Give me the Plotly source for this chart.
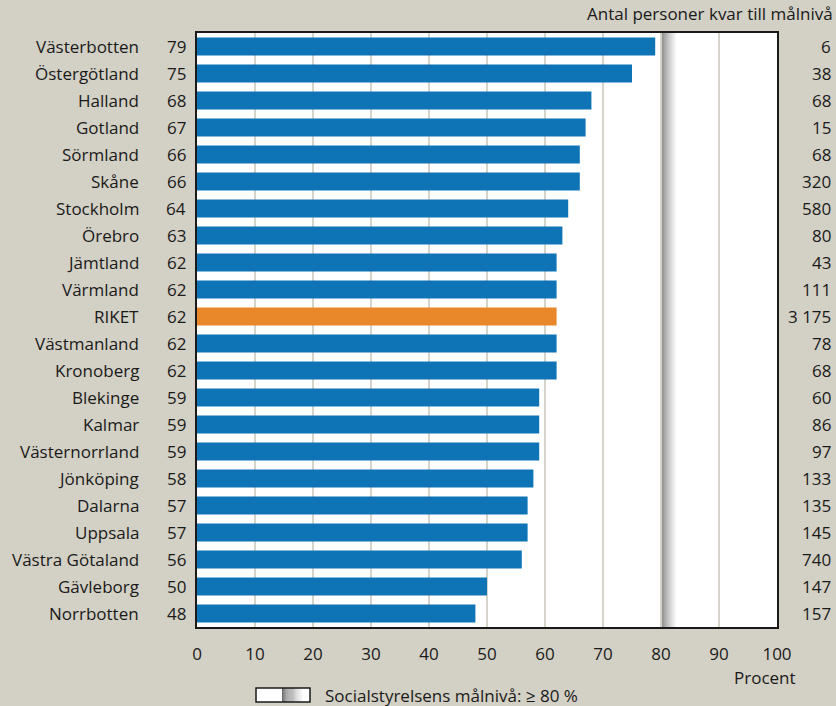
import plotly.graph_objects as go

# Andel (%) per län, sorted high to low, with RIKET highlighted
regions = ["Västerbotten", "Östergötland", "Halland", "Gotland", "Sörmland", "Skåne",
           "Stockholm", "Örebro", "Jämtland", "Värmland", "RIKET", "Västmanland",
           "Kronoberg", "Blekinge", "Kalmar", "Västernorrland", "Jönköping", "Dalarna",
           "Uppsala", "Västra Götaland", "Gävleborg", "Norrbotten"]
percent = [79, 75, 68, 67, 66, 66, 64, 63, 62, 62, 62, 62, 62, 59, 59, 59, 58, 57, 57, 56, 50, 48]
remaining = ["6", "38", "68", "15", "68", "320", "580", "80", "43", "111", "3 175", "78",
             "68", "60", "86", "97", "133", "135", "145", "740", "147", "157"]
x_ticks = [0, 10, 20, 30, 40, 50, 60, 70, 80, 90, 100]
target = 80

BG = "#d3d0c5"
BLUE = "#0e74b5"
ORANGE = "#e8882a"
FONT = "Open Sans"
FS = 17
TXT = "#1a1a1a"

colors = [ORANGE if r == "RIKET" else BLUE for r in regions]

fig = go.Figure(go.Bar(
    x=percent, y=regions, orientation="h",
    marker=dict(color=colors, line=dict(width=0)),
    width=0.66, hoverinfo="x+y",
))

# Target band: dark edge at the target level fading to white
steps = 24
band_w = 2.8
shapes = []
for i in range(steps):
    t = i / (steps - 1)
    g = int(95 + (255 - 95) * (t ** 0.8))
    x0 = target + band_w * i / steps
    x1 = target + band_w * (i + 1) / steps
    shapes.append(dict(type="rect", xref="x", yref="paper", x0=x0, x1=x1, y0=0, y1=1,
                       fillcolor=f"rgb({g},{g},{g})", line=dict(width=0), layer="between"))

# Legend swatch for the target level (below the plot)
lx0, lx1, ly0, ly1 = 256, 310, 688, 702
W, H = 836, 706
ml, mr, mt, mb = 197, 59, 33, 79
pw, ph = W - ml - mr, H - mt - mb


def px(xp):
    return (xp - ml) / pw


def py(yp):
    return (H - mb - yp) / ph


shapes.append(dict(type="rect", xref="paper", yref="paper", x0=px(lx0), x1=px(lx1),
                   y0=py(ly1), y1=py(ly0), fillcolor="white", line=dict(width=0)))
gx0, gx1 = 282, 304
for i in range(steps):
    t = i / (steps - 1)
    g = int(95 + (255 - 95) * (t ** 0.8))
    a = gx0 + (gx1 - gx0) * i / steps
    b = gx0 + (gx1 - gx0) * (i + 1) / steps
    shapes.append(dict(type="rect", xref="paper", yref="paper", x0=px(a), x1=px(b),
                       y0=py(ly1), y1=py(ly0), fillcolor=f"rgb({g},{g},{g})", line=dict(width=0)))
shapes.append(dict(type="rect", xref="paper", yref="paper", x0=px(lx0), x1=px(lx1),
                   y0=py(ly1), y1=py(ly0), fillcolor="rgba(0,0,0,0)",
                   line=dict(color=TXT, width=1.5)))

annotations = []
for name, val, rem in zip(regions, percent, remaining):
    annotations.append(dict(x=0, xref="paper", y=name, yref="y", text=name, showarrow=False,
                            xanchor="right", xshift=-56, font=dict(family=FONT, size=FS, color=TXT)))
    annotations.append(dict(x=0, xref="paper", y=name, yref="y", text=str(val), showarrow=False,
                            xanchor="right", xshift=-9, font=dict(family=FONT, size=FS, color=TXT)))
    annotations.append(dict(x=1, xref="paper", y=name, yref="y", text=rem, showarrow=False,
                            xanchor="right", xshift=56, font=dict(family=FONT, size=FS, color=TXT)))

annotations.append(dict(x=1, xref="paper", y=py(14), yref="paper", text="Antal personer kvar till målnivå",
                        showarrow=False, xanchor="right", yanchor="middle", xshift=58,
                        font=dict(family=FONT, size=FS, color=TXT)))
annotations.append(dict(x=1, xref="paper", y=py(677), yref="paper", text="Procent",
                        showarrow=False, xanchor="right", yanchor="middle", xshift=21,
                        font=dict(family=FONT, size=FS, color=TXT)))
annotations.append(dict(x=px(323), xref="paper", y=py(695), yref="paper",
                        text="Socialstyrelsens målnivå: ≥ 80 %",
                        showarrow=False, xanchor="left", yanchor="middle",
                        font=dict(family=FONT, size=FS, color=TXT)))

fig.update_layout(
    width=W, height=H,
    margin=dict(l=ml, r=mr, t=mt, b=mb, pad=0),
    paper_bgcolor=BG, plot_bgcolor="white",
    showlegend=False, bargap=0.34,
    shapes=shapes, annotations=annotations,
    font=dict(family=FONT, size=FS, color=TXT),
)
fig.update_xaxes(range=[0, 100], tickvals=x_ticks, showgrid=True, gridcolor="#d6d4ca", gridwidth=1.5,
                 zeroline=False, showline=True, linecolor=TXT, linewidth=1.5, mirror=True,
                 ticks="", ticklabelstandoff=11, tickfont=dict(family=FONT, size=FS, color=TXT),
                 fixedrange=True)
fig.update_yaxes(categoryorder="array", categoryarray=regions, autorange="reversed",
                 showticklabels=False, showgrid=False, zeroline=False, showline=True,
                 linecolor=TXT, linewidth=1.5, mirror=True, ticks="", fixedrange=True)

fig.write_html("out.html", config={"displayModeBar": False})
